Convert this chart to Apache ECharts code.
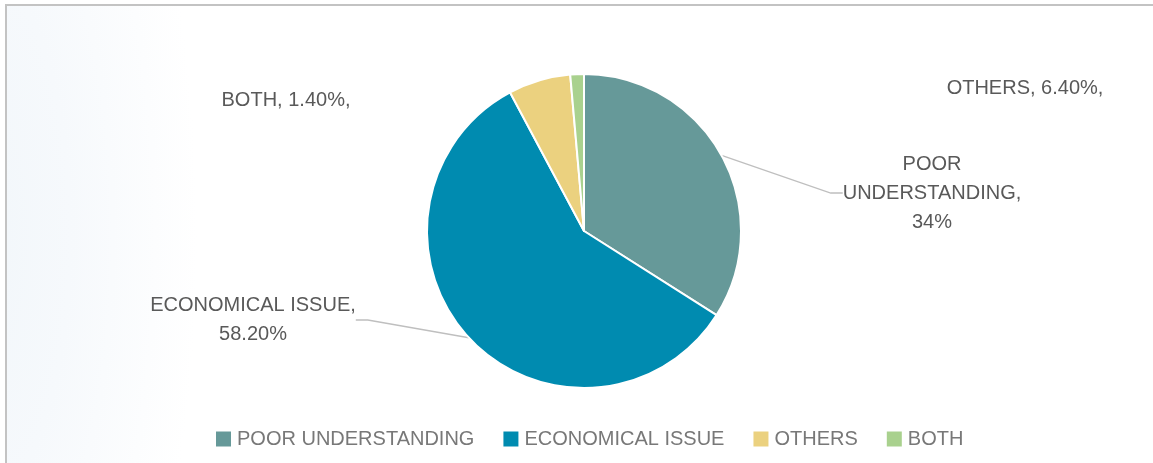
<!DOCTYPE html>
<html>
<head>
<meta charset="utf-8">
<script src="https://cdn.jsdelivr.net/npm/echarts@6/dist/echarts.min.js"></script>
<style>
  html, body { margin: 0; padding: 0; width: 1153px; height: 463px; overflow: hidden; background: #ffffff; }
  #frame {
    position: absolute; left: 5px; top: 4px; right: 0; bottom: 0;
    border-left: 2px solid #c3c3c3; border-top: 2px solid #c3c3c3;
    background: radial-gradient(ellipse 230px 620px at -40px 230px, #f1f6fa 0%, #f6f9fc 45%, rgba(255,255,255,0) 100%);
  }
  #chart { position: absolute; left: 0; top: 0; width: 1153px; height: 463px; }
</style>
</head>
<body>
<div id="frame"></div>
<div id="chart"></div>
<script>
// Reasons reported, clockwise from 12 o'clock
const categories = ['POOR UNDERSTANDING', 'ECONOMICAL ISSUE', 'OTHERS', 'BOTH'];
const values = [34, 58.2, 6.4, 1.4];
const valueText = ['34%', '58.20%', '6.40%,', '1.40%,'];

const sliceColors = ['#669999', '#008bb0', '#ebd17f', '#a9d18e'];

// Where each data label sits (text centre) and whether it gets a leader line
const labelSpots = [
  { x: 932, y: 193, line: true },
  { x: 253, y: 320, line: true },
  { x: 1025, y: 88, line: false },
  { x: 286, y: 100, line: false }
];

function labelText(i) {
  if (i === 0) return 'POOR\nUNDERSTANDING,\n' + valueText[i];
  if (i === 1) return categories[i] + ',\n' + valueText[i];
  return categories[i] + ', ' + valueText[i];
}

const chart = echarts.init(document.getElementById('chart'), null, { renderer: 'canvas' });

chart.setOption({
  animation: false,
  backgroundColor: 'transparent',
  legend: {
    left: 209,
    top: 424,
    itemWidth: 17,
    itemHeight: 17,
    itemGap: 27,
    icon: 'rect',
    textStyle: { color: '#787878', fontFamily: 'Liberation Sans', fontSize: 20 },
    data: categories
  },
  series: [{
    type: 'pie',
    center: [584, 231],
    radius: [0, 157],
    startAngle: 90,
    clockwise: true,
    avoidLabelOverlap: false,
    itemStyle: { borderColor: '#ffffff', borderWidth: 2 },
    label: {
      show: true,
      position: 'outside',
      color: '#595959',
      fontFamily: 'Liberation Sans',
      fontSize: 20,
      lineHeight: 29,
      align: 'center',
      formatter: p => labelText(p.dataIndex)
    },
    labelLine: {
      show: true,
      lineStyle: { color: '#bfbfbf', width: 1.3 },
      length: 20,
      length2: 12
    },
    labelLayout: function (p) {
      const s = labelSpots[p.dataIndex];
      return { x: s.x, y: s.y, align: 'center', verticalAlign: 'middle' };
    },
    data: categories.map((c, i) => ({
      name: c,
      value: values[i],
      itemStyle: { color: sliceColors[i] },
      labelLine: { show: labelSpots[i].line }
    }))
  }]
});
</script>
</body>
</html>
